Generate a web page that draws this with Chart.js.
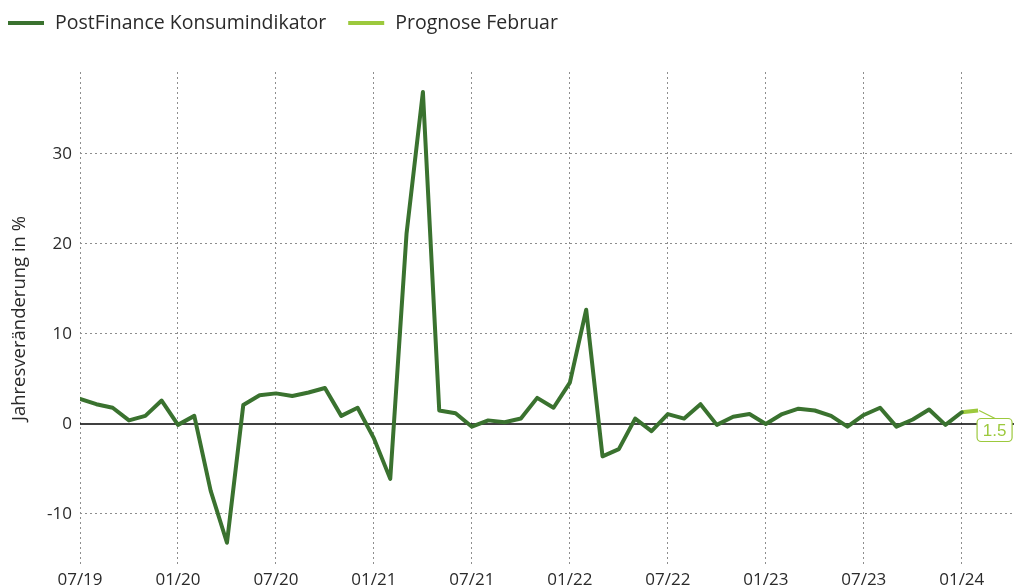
<!DOCTYPE html>
<html><head><meta charset="utf-8">
<script src="https://cdn.jsdelivr.net/npm/chart.js@4"></script>
<style>html,body{margin:0;padding:0;overflow:hidden;background:#fff;width:1017px;height:587px}
#wrap{position:relative;width:1017px;height:600px}</style>
</head><body><div id="wrap"><canvas id="c" width="1017" height="600"></canvas></div>
<script>
const months = ["07/19","08/19","09/19","10/19","11/19","12/19","01/20","02/20","03/20","04/20","05/20","06/20",
"07/20","08/20","09/20","10/20","11/20","12/20","01/21","02/21","03/21","04/21","05/21","06/21",
"07/21","08/21","09/21","10/21","11/21","12/21","01/22","02/22","03/22","04/22","05/22","06/22",
"07/22","08/22","09/22","10/22","11/22","12/22","01/23","02/23","03/23","04/23","05/23","06/23",
"07/23","08/23","09/23","10/23","11/23","12/23","01/24","02/24"];
const konsum = [2.8,2.2,1.8,0.4,0.9,2.6,-0.1,0.9,-7.4,-13.2,2.1,3.2,
3.4,3.1,3.5,4.0,0.9,1.8,-1.6,-6.1,21.2,36.9,1.5,1.2,
-0.3,0.4,0.2,0.6,2.9,1.8,4.6,12.7,-3.6,-2.8,0.6,-0.8,
1.1,0.6,2.2,-0.1,0.8,1.1,0.0,1.1,1.7,1.5,0.9,-0.3,
1.0,1.8,-0.3,0.5,1.6,-0.1,1.3];
const prognose = [1.5];
const xTickLabels = ["07/19","01/20","07/20","01/21","07/21","01/22","07/22","01/23","07/23","01/24"];
const yTicks = [-10,0,10,20,30];
const seriesLabels = ["PostFinance Konsumindikator","Prognose Februar"];

const DARK = '#3a722f', LIGHT = '#9cc93d', GRID = '#8e8e8e', TXT = '#2a2a2a';
const xTickIdx = xTickLabels.map(l => months.indexOf(l));
const lastIdx = konsum.length - 1;

const konsumData = konsum.map((v,i)=>({x:i,y:v}));
const progData = [{x:lastIdx,y:konsum[lastIdx]}].concat(prognose.map((v,i)=>({x:lastIdx+1+i,y:v})));

const zeroLine = {
  id:'zeroLine',
  beforeDatasetsDraw(chart){
    const {ctx, chartArea:a, scales:{y}} = chart;
    const py = y.getPixelForValue(0);
    ctx.save(); ctx.strokeStyle='#000'; ctx.lineWidth=1.5;
    ctx.beginPath(); ctx.moveTo(a.left,py); ctx.lineTo(a.right,py); ctx.stroke(); ctx.restore();
  }
};
const customLegend = {
  id:'customLegend',
  afterDraw(chart){
    const ctx = chart.ctx; ctx.save();
    ctx.font = '19.5px "Open Sans"'; ctx.textBaseline='middle'; ctx.textAlign='left';
    let x = 8; const y = 23;
    chart.data.datasets.forEach(ds=>{
      ctx.strokeStyle = ds.borderColor; ctx.lineWidth = 4;
      ctx.beginPath(); ctx.moveTo(x,y); ctx.lineTo(x+36,y); ctx.stroke();
      ctx.fillStyle = TXT; ctx.fillText(ds.label, x+47, y);
      x += 47 + ctx.measureText(ds.label).width + 22;
    });
    ctx.restore();
  }
};
const progLabel = {
  id:'progLabel',
  afterDatasetsDraw(chart){
    const {ctx, scales:{x,y}} = chart;
    const p = progData[progData.length-1];
    const px = x.getPixelForValue(p.x), py = y.getPixelForValue(p.y);
    ctx.save();
    ctx.strokeStyle = LIGHT; ctx.lineWidth = 1.2;
    ctx.beginPath(); ctx.moveTo(px+1,py); ctx.lineTo(px+17,py+8); ctx.stroke();
    const bx = px-1, by = py+8, bw = 35, bh = 23;
    ctx.beginPath(); ctx.roundRect(bx,by,bw,bh,4); ctx.fillStyle='#fff'; ctx.fill(); ctx.stroke();
    ctx.fillStyle = LIGHT; ctx.font = '17px "Liberation Sans"'; ctx.textAlign='center'; ctx.textBaseline='middle';
    ctx.fillText(p.y.toFixed(1), bx+bw/2, by+bh/2+1);
    ctx.restore();
  }
};

new Chart(document.getElementById('c'), {
  type:'line',
  data:{datasets:[
    {label:seriesLabels[0], data:konsumData, borderColor:DARK, backgroundColor:DARK, borderWidth:4, pointRadius:0, tension:0, borderJoinStyle:'round', borderCapStyle:'round'},
    {label:seriesLabels[1], data:progData, borderColor:LIGHT, backgroundColor:LIGHT, borderWidth:4, pointRadius:0, tension:0, borderCapStyle:'butt'}
  ]},
  options:{
    responsive:false, animation:false, devicePixelRatio:1,
    layout:{padding:{top:72,left:0,right:3,bottom:0}},
    plugins:{legend:{display:false}, tooltip:{enabled:false}},
    scales:{
      x:{type:'linear', min:0, max:57.2,
        afterBuildTicks:s=>{s.ticks = xTickIdx.map(v=>({value:v}));},
        afterFit:s=>{s.height=35;},
        grid:{color:GRID, lineWidth:1, drawTicks:false},
        border:{display:false, dash:[2,3]},
        ticks:{callback:(v)=>months[v], padding:5, color:TXT, font:{family:'Open Sans', size:17}, maxRotation:0, autoSkip:false}
      },
      y:{min:-15.67, max:39.11,
        afterBuildTicks:s=>{s.ticks = yTicks.map(v=>({value:v}));},
        afterFit:s=>{s.width=80;},
        grid:{color:ctx=> (ctx.tick && ctx.tick.value===0) ? 'rgba(0,0,0,0)' : GRID, lineWidth:1, drawTicks:false},
        border:{display:false, dash:[2,3]},
        ticks:{padding:8, color:TXT, font:{family:'Open Sans', size:17}},
        title:{display:true, text:'Jahresveränderung in %', color:TXT, font:{family:'Open Sans', size:18.5}, padding:{top:9,bottom:0}}
      }
    }
  },
  plugins:[zeroLine, progLabel, customLegend]
});
</script></body></html>
